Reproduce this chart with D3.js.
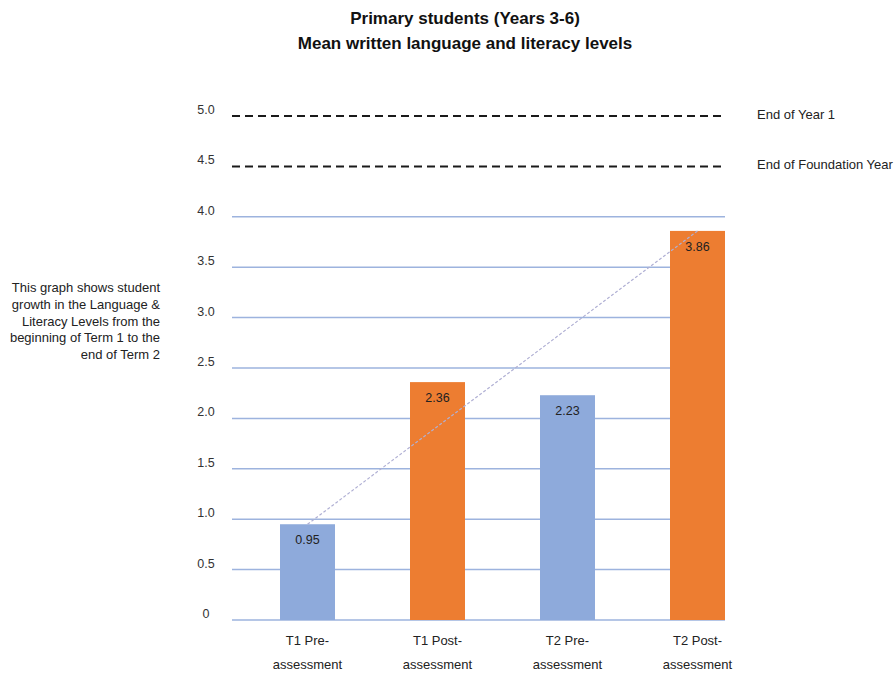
<!DOCTYPE html>
<html>
<head>
<meta charset="utf-8">
<script src="https://cdn.jsdelivr.net/npm/d3@7"></script>
<style>
  body { margin: 0; background: #fff; }
  svg { display: block; font-family: "Liberation Sans", Arial, sans-serif; }
</style>
</head>
<body>
<svg id="chart" width="895" height="674"></svg>
<script>
// Mean levels per assessment point
const categories = ["T1 Pre-assessment", "T1 Post-assessment", "T2 Pre-assessment", "T2 Post-assessment"];
const catLines = [["T1 Pre-", "assessment"], ["T1 Post-", "assessment"], ["T2 Pre-", "assessment"], ["T2 Post-", "assessment"]];
const values = [0.95, 2.36, 2.23, 3.86];
const barKinds = ["pre", "post", "pre", "post"];
const yTicks = [0, 0.5, 1.0, 1.5, 2.0, 2.5, 3.0, 3.5, 4.0];
const yTickLabels = ["0", "0.5", "1.0", "1.5", "2.0", "2.5", "3.0", "3.5", "4.0", "4.5", "5.0"];
const benchmarkValues = [5.0, 4.5];
const benchmarkLabels = ["End of Year 1", "End of Foundation Year"];
const titleLines = ["Primary students (Years 3-6)", "Mean written language and literacy levels"];
const noteLines = ["This graph shows student", "growth in the Language &", "Literacy Levels from the", "beginning of Term 1 to the", "end of Term 2"];

const colors = { pre: "#8eaadb", post: "#ed7d31", grid: "#9db3de" };

const svg = d3.select("#chart");

const y = d3.scaleLinear().domain([0, 5]).range([620, 116]);
const x = d3.scaleBand().domain(categories).range([242.5, 762.5])
  .paddingInner(0.577).paddingOuter(0.2885);
const gridX0 = 232, gridX1 = 725;

// Title
svg.append("g").selectAll("text").data(titleLines).join("text")
  .attr("x", 465).attr("y", (d, i) => 24 + i * 25)
  .attr("text-anchor", "middle")
  .attr("font-size", 17).attr("font-weight", "bold").attr("fill", "#111")
  .text(d => d);

// Gridlines
svg.append("g").selectAll("line").data(yTicks).join("line")
  .attr("x1", gridX0).attr("x2", gridX1)
  .attr("y1", d => y(d)).attr("y2", d => y(d))
  .attr("stroke", colors.grid).attr("stroke-width", 1.5);

// Benchmark dashed lines
svg.append("g").selectAll("line").data(benchmarkValues).join("line")
  .attr("x1", gridX0).attr("x2", gridX1)
  .attr("y1", d => y(d)).attr("y2", d => y(d))
  .attr("stroke", "#1a1a1a").attr("stroke-width", 2)
  .attr("stroke-dasharray", "8,5");

svg.append("g").selectAll("text").data(benchmarkLabels).join("text")
  .attr("x", 757).attr("y", (d, i) => y(benchmarkValues[i]) + 3)
  .attr("font-size", 13).attr("fill", "#222")
  .text(d => d);

// Y tick labels
const allTicks = yTicks.concat([4.5, 5.0]);
svg.append("g").selectAll("text").data(allTicks).join("text")
  .attr("x", 206).attr("y", d => y(d) - 2)
  .attr("text-anchor", "middle")
  .attr("font-size", 12.5).attr("fill", "#333")
  .text((d, i) => yTickLabels[i]);

// Bars
svg.append("g").selectAll("rect").data(values).join("rect")
  .attr("x", (d, i) => x(categories[i]))
  .attr("width", x.bandwidth())
  .attr("y", d => y(d))
  .attr("height", d => y(0) - y(d))
  .attr("fill", (d, i) => colors[barKinds[i]]);

// Growth trend line from first to last assessment
svg.append("line")
  .attr("x1", x(categories[0]) + x.bandwidth() / 2)
  .attr("y1", y(values[0]))
  .attr("x2", x(categories[3]) + x.bandwidth() / 2)
  .attr("y2", y(values[3]))
  .attr("stroke", "#b0b0d4").attr("stroke-width", 1.2)
  .attr("stroke-dasharray", "3,2");

// Value labels
svg.append("g").selectAll("text").data(values).join("text")
  .attr("x", (d, i) => x(categories[i]) + x.bandwidth() / 2)
  .attr("y", d => y(d) + 20)
  .attr("text-anchor", "middle")
  .attr("font-size", 12.5).attr("fill", "#222")
  .text(d => d.toFixed(2));

// Category labels
const xl = svg.append("g").selectAll("text").data(categories).join("text")
  .attr("text-anchor", "middle")
  .attr("font-size", 13).attr("fill", "#222");
xl.selectAll("tspan").data((d, i) => catLines[i].map(t => ({ t, c: d }))).join("tspan")
  .attr("x", d => x(d.c) + x.bandwidth() / 2)
  .attr("y", (d, j) => 645 + j * 24)
  .text(d => d.t);

// Side note
svg.append("g").selectAll("text").data(noteLines).join("text")
  .attr("x", 160).attr("y", (d, i) => 292 + i * 16.8)
  .attr("text-anchor", "end")
  .attr("font-size", 13).attr("fill", "#222")
  .text(d => d);
</script>
</body>
</html>
